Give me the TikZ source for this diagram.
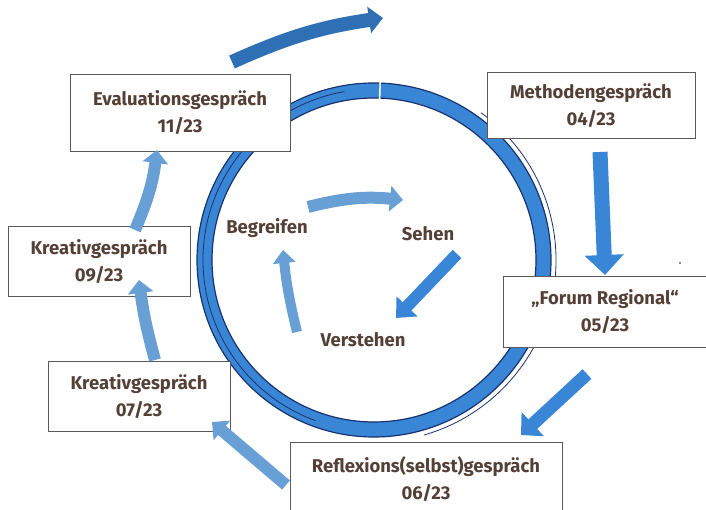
\documentclass[tikz,border=0pt]{standalone}
\usepackage{fontspec}
\setmainfont{Fira Sans}
\usetikzlibrary{positioning,arrows.meta,calc}
\definecolor{ringblue}{RGB}{58,134,214}
\definecolor{ringnavy}{RGB}{24,50,112}
\definecolor{arrowdark}{RGB}{47,112,181}
\definecolor{arrowlight}{RGB}{104,160,214}
\definecolor{txtbrown}{RGB}{84,64,54}
\tikzset{
  talk/.style={draw=black!65, line width=1pt, fill=white, align=center,
               font=\bfseries\fontsize{18.5}{27}\selectfont, text=txtbrown},
  phase/.style={font=\bfseries\fontsize{18.5}{22}\selectfont, text=txtbrown},
  fat/.style={line width=15pt, draw=ringblue, -{Triangle[length=20pt,width=38pt]}},
  fatdark/.style={line width=14pt, draw=arrowdark, -{Triangle[length=14pt,width=26pt]}},
  fatlight/.style={line width=12pt, draw=arrowlight, -{Triangle[length=13pt,width=25pt]}}
}
\begin{document}
\begin{tikzpicture}[x=1pt, y=1pt]
  \useasboundingbox (0,0) rectangle (706,510);
  % ring
  \coordinate (ctr) at (374,250);
  \fill[ringblue, even odd rule] (ctr) circle[radius=177] (ctr) circle[radius=162];
  \draw[ringnavy, line width=1.2pt] (ctr) circle[radius=177] (ctr) circle[radius=162];
  \draw[ringnavy, line width=.8pt] ($(ctr)+(100:171)$) arc[start angle=100, end angle=250, radius=171];
  \draw[ringnavy, line width=.8pt] ($(ctr)+(54:182)$) arc[start angle=54, end angle=-74, radius=182];
  \draw[white, line width=1.5pt] ($(ctr)+(88:160)$) -- ($(ctr)+(88:179)$);

  % talks
  \node[talk, minimum width=220pt, minimum height=77pt] (eval) at (180,397) {Evaluationsgespräch\\11/23};
  \node[talk, minimum width=208pt, minimum height=66pt] (meth) at (591,404) {Methodengespräch\\04/23};
  \node[talk, minimum width=204pt, minimum height=71pt] (forum) at (605,198) {„Forum Regional“\\05/23};
  \node[talk, minimum width=272pt, minimum height=72pt] (refl) at (426,31) {Reflexions(selbst)gespräch\\06/23};
  \node[talk, minimum width=182pt, minimum height=70pt] (krea07) at (139,113) {Kreativgespräch\\07/23};
  \node[talk, minimum width=182pt, minimum height=70pt] (krea09) at (99,248) {Kreativgespräch\\09/23};

  % phases
  \node[phase] (begr) at (267,282) {Begreifen};
  \node[phase] (sehen) at (428,276) {Sehen};
  \node[phase] (verst) at (363,170) {Verstehen};

  % arrow ends
  \coordinate (top0) at (232,448);  \coordinate (top1) at (383,492);
  \coordinate (m0) at (600,358);    \coordinate (m1) at (605,235);
  \coordinate (f0) at (587,136);    \coordinate (f1) at (521,75);
  \coordinate (r0) at (286,25);     \coordinate (r1) at (212,88);
  \coordinate (k0) at (155,150);    \coordinate (k1) at (139,230);
  \coordinate (e0) at (135,280);    \coordinate (e1) at (157,360);
  \coordinate (b0) at (308,303);    \coordinate (b1) at (403,310);
  \coordinate (s0) at (457,256);    \coordinate (s1) at (396,192);
  \coordinate (v0) at (297,178);    \coordinate (v1) at (283,260);

  \draw[fatdark] (top0) to[bend left=8] (top1);
  \draw[fat] (m0) -- (m1);
  \draw[fat, line width=13pt, -{Triangle[length=16pt,width=32pt]}] (f0) -- (f1);
  \draw[fatlight] (r0) -- (r1);
  \draw[fatlight] (k0) to[bend left=4] (k1);
  \draw[fatlight] (e0) to[bend right=8] (e1);
  \draw[fatlight] (b0) to[bend left=10] (b1);
  \draw[fat, line width=12pt, -{Triangle[length=16pt,width=28pt]}] (s0) -- (s1);
  \draw[fatlight, line width=10pt, -{Triangle[length=13pt,width=22pt]}] (v0) to[bend left=4] (v1);

  \fill[black!60] (680,247) circle[radius=1.2];
\end{tikzpicture}
\end{document}
